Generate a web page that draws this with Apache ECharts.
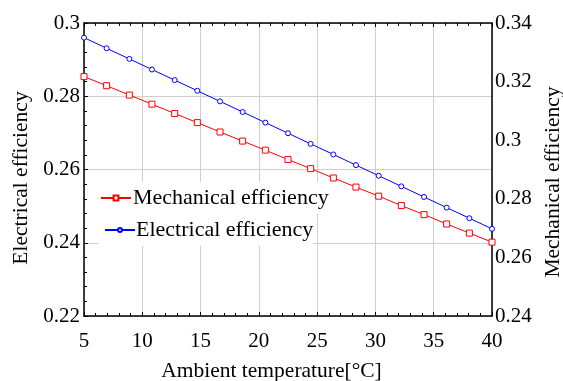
<!DOCTYPE html>
<html>
<head>
<meta charset="utf-8">
<script src="https://cdn.jsdelivr.net/npm/echarts@6/dist/echarts.min.js"></script>
<style>html,body{margin:0;padding:0;background:#fff}#c{width:563px;height:381px}</style>
</head>
<body>
<div id="c"></div>
<script>
var temperature = [5, 6.94, 8.89, 10.83, 12.78, 14.72, 16.67, 18.61, 20.56, 22.5, 24.44, 26.39, 28.33, 30.28, 32.22, 34.17, 36.11, 38.06, 40];
var electrical = [0.2960, 0.2931, 0.2902, 0.2873, 0.2844, 0.2815, 0.2786, 0.2757, 0.2728, 0.2699, 0.2670, 0.2641, 0.2612, 0.2583, 0.2554, 0.2525, 0.2496, 0.2467, 0.2438];
var mechanical = [0.3217, 0.3186, 0.3154, 0.3123, 0.3091, 0.3060, 0.3028, 0.2997, 0.2966, 0.2934, 0.2903, 0.2871, 0.2840, 0.2809, 0.2777, 0.2746, 0.2714, 0.2683, 0.2652];
var xTicks = [5, 10, 15, 20, 25, 30, 35, 40];
var leftTicks = [0.22, 0.24, 0.26, 0.28, 0.3];
var rightTicks = [0.24, 0.26, 0.28, 0.3, 0.32, 0.34];

function pairs(xs, ys) { return xs.map(function (x, i) { return [x, ys[i]]; }); }

var FONT = "'Liberation Serif', 'Times New Roman', serif";
var chart = echarts.init(document.getElementById('c'), null, { renderer: 'canvas' });
var axisLineStyle = { color: '#000', width: 1.5 };
chart.setOption({
  backgroundColor: '#fff',
  animation: false,
  grid: { left: 84, right: 71, top: 23, bottom: 65, containLabel: false, outerBoundsMode: 'none' },
  legend: [
    {
      data: ['Mechanical efficiency'],
      left: 98, top: 182, orient: 'vertical',
      itemWidth: 30, itemHeight: 6, itemGap: 0,
      padding: [4, 0, 4, 2],
      backgroundColor: '#fff',
      textStyle: { fontFamily: FONT, fontSize: 22, color: '#000', padding: [0, 0, 0, -3], lineHeight: 24 }
    },
    {
      data: ['Electrical efficiency'],
      left: 98, top: 214, orient: 'vertical',
      itemWidth: 30, itemHeight: 5, itemGap: 0,
      padding: [4, 0, 4, 6],
      backgroundColor: '#fff',
      textStyle: { fontFamily: FONT, fontSize: 22, color: '#000', padding: [0, 0, 0, -4], lineHeight: 24 }
    }
  ],
  xAxis: [
    {
      type: 'value', min: 5, max: 40, interval: 5, position: 'bottom',
      name: 'Ambient temperature[°C]', nameLocation: 'middle', nameGap: 44,
      nameTextStyle: { fontFamily: FONT, fontSize: 21.5, color: '#000', padding: [0, 33, 0, 0] },
      axisLine: { show: true, onZero: false, lineStyle: axisLineStyle },
      axisTick: { show: true, inside: true, length: 4, lineStyle: { color: '#000' } },
      minorTick: { show: true, splitNumber: 5, length: 3, lineStyle: { color: '#000' } },
      axisLabel: { fontFamily: FONT, fontSize: 21, color: '#000', margin: 15,
        formatter: function (v) { return xTicks.indexOf(v) >= 0 ? String(v) : ''; } },
      splitLine: { show: true, lineStyle: { color: '#cfcfcf', width: 1 } }
    },
    {
      type: 'value', min: 5, max: 40, interval: 5, position: 'top',
      axisLine: { show: true, onZero: false, lineStyle: axisLineStyle },
      axisTick: { show: true, inside: true, length: 4, lineStyle: { color: '#000' } },
      minorTick: { show: true, splitNumber: 5, length: 3, lineStyle: { color: '#000' } },
      axisLabel: { show: false },
      splitLine: { show: false }
    }
  ],
  yAxis: [
    {
      type: 'value', min: 0.22, max: 0.3, interval: 0.02, position: 'left',
      name: 'Electrical efficiency', nameLocation: 'middle', nameGap: 52, nameRotate: 90,
      nameTextStyle: { fontFamily: FONT, fontSize: 21.5, color: '#000', padding: [0, 17, 0, 0] },
      axisLine: { show: true, onZero: false, lineStyle: axisLineStyle },
      axisTick: { show: true, inside: true, length: 4, lineStyle: { color: '#000' } },
      minorTick: { show: true, splitNumber: 5, length: 3, lineStyle: { color: '#000' } },
      axisLabel: { fontFamily: FONT, fontSize: 21, color: '#000', margin: 4,
        formatter: function (v) { var r = Math.round(v * 100) / 100; return leftTicks.indexOf(r) >= 0 ? String(r) : ''; } },
      splitLine: { show: true, lineStyle: { color: '#cfcfcf', width: 1 } }
    },
    {
      type: 'value', min: 0.24, max: 0.34, interval: 0.02, position: 'right',
      name: 'Mechanical efficiency', nameLocation: 'middle', nameGap: 46, nameRotate: 90,
      nameTextStyle: { fontFamily: FONT, fontSize: 21.5, color: '#000', padding: [0, 25, 0, 0] },
      axisLine: { show: true, onZero: false, lineStyle: axisLineStyle },
      axisTick: { show: false },
      axisLabel: { fontFamily: FONT, fontSize: 21, color: '#000', margin: 3,
        formatter: function (v) { var r = Math.round(v * 100) / 100; return rightTicks.indexOf(r) >= 0 ? String(r) : ''; } },
      splitLine: { show: false }
    }
  ],
  series: [
    {
      name: 'Mechanical efficiency', type: 'line', xAxisIndex: 0, yAxisIndex: 1,
      data: pairs(temperature, mechanical),
      symbol: 'rect', symbolSize: 6, showAllSymbol: true,
      itemStyle: { color: '#fff', borderColor: '#ff0000', borderWidth: 1 },
      lineStyle: { color: '#ff0000', width: 1 },
      z: 3
    },
    {
      name: 'Electrical efficiency', type: 'line', xAxisIndex: 0, yAxisIndex: 0,
      data: pairs(temperature, electrical),
      symbol: 'circle', symbolSize: 5, showAllSymbol: true,
      itemStyle: { color: '#fff', borderColor: '#0000ff', borderWidth: 1 },
      lineStyle: { color: '#0000ff', width: 1 },
      z: 3
    }
  ]
});
</script>
</body>
</html>
